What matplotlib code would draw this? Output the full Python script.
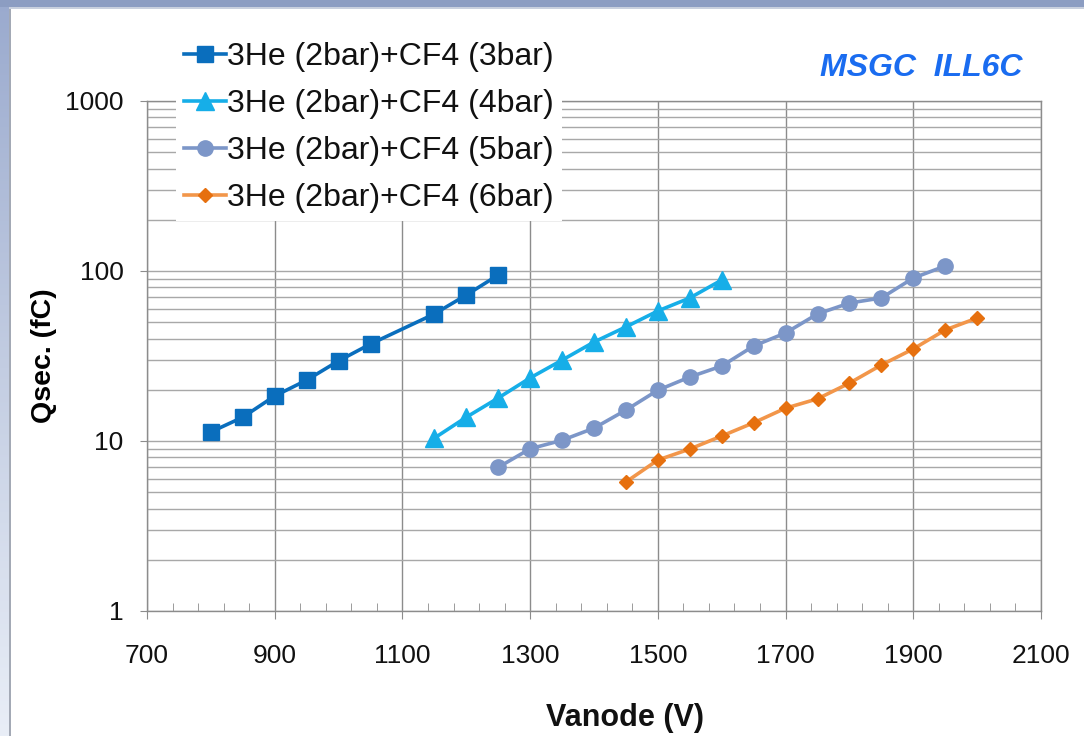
import numpy as np
import matplotlib
matplotlib.use("Agg")
import matplotlib.pyplot as plt
from matplotlib.ticker import FixedLocator, LogLocator, NullFormatter, FixedFormatter
from matplotlib.patches import Rectangle

plt.rcParams['font.family'] = ['Liberation Sans', 'DejaVu Sans']

# Anode voltage (V) and secondary charge (fC) for each gas mixture
v_3bar = [800, 850, 900, 950, 1000, 1050, 1150, 1200, 1250]
q_3bar = [11.3, 13.8, 18.4, 22.8, 29.6, 37.2, 55.9, 72.2, 94.7]

v_4bar = [1150, 1200, 1250, 1300, 1350, 1400, 1450, 1500, 1550, 1600]
q_4bar = [10.4, 13.8, 17.9, 23.5, 29.9, 38.2, 46.9, 58.2, 69.4, 88.5]

v_5bar = [1250, 1300, 1350, 1400, 1450, 1500, 1550, 1600, 1650, 1700,
          1750, 1800, 1850, 1900, 1950]
q_5bar = [7.0, 9.0, 10.1, 11.9, 15.2, 19.9, 23.8, 27.6, 36.2, 43.2,
          55.9, 64.8, 69.4, 90.9, 107.0]

v_6bar = [1450, 1500, 1550, 1600, 1650, 1700, 1750, 1800, 1850, 1900,
          1950, 2000]
q_6bar = [5.74, 7.73, 8.97, 10.7, 12.8, 15.6, 17.7, 21.9, 28.0, 34.8,
          45.0, 52.9]

labels = ["3He (2bar)+CF4 (3bar)", "3He (2bar)+CF4 (4bar)",
          "3He (2bar)+CF4 (5bar)", "3He (2bar)+CF4 (6bar)"]
x_ticks = [700, 900, 1100, 1300, 1500, 1700, 1900, 2100]
y_ticks = [1, 10, 100, 1000]
y_tick_labels = ["1", "10", "100", "1000"]

W, H = 1084, 736
fig = plt.figure(figsize=(W / 100, H / 100), dpi=100)
fig.patch.set_facecolor("white")

# slide-style frame: gradient band on the left, darker band at the top
band = fig.add_axes([0, 0, 9 / W, 1])
grad = np.linspace(0, 1, 256).reshape(-1, 1)
cmap = matplotlib.colors.LinearSegmentedColormap.from_list(
    "band", ["#e9eef7", "#c3cde2", "#9aaace"])
band.imshow(grad, aspect="auto", cmap=cmap, origin="lower", extent=[0, 1, 0, 1])
band.set_axis_off()
fig.add_artist(Rectangle((9 / W, 0), 1.5 / W, 1 - 7 / H, transform=fig.transFigure,
                         facecolor="#a3a9b5", edgecolor="none"))
fig.add_artist(Rectangle((0, 1 - 7 / H), 1, 7 / H, transform=fig.transFigure,
                         facecolor="#8c9dc2", edgecolor="none"))
fig.add_artist(Rectangle((9 / W, 1 - 8.5 / H), 1, 1.5 / H, transform=fig.transFigure,
                         facecolor="#c9d0de", edgecolor="none"))

ax = fig.add_axes([147 / W, 125 / H, (1041 - 147) / W, (611 - 101) / H])
ax.set_yscale("log")
ax.set_xlim(700, 2100)
ax.set_ylim(1, 1000)

grid_c = "#a8a8a8"
vgrid_c = "#8c8c8c"
ax.xaxis.set_major_locator(FixedLocator(x_ticks))
ax.xaxis.set_minor_locator(FixedLocator(np.arange(700, 2101, 40)))
ax.yaxis.set_major_locator(FixedLocator(y_ticks))
ax.yaxis.set_major_formatter(FixedFormatter(y_tick_labels))
ax.yaxis.set_minor_locator(LogLocator(base=10, subs=np.arange(2, 10)))
ax.yaxis.set_minor_formatter(NullFormatter())

ax.grid(True, axis="x", which="major", color=vgrid_c, lw=1.0)
ax.grid(True, axis="y", which="both", color=grid_c, lw=1.0)
ax.set_axisbelow(True)

for s in ax.spines.values():
    s.set_color(vgrid_c)
    s.set_linewidth(1.0)

ax.tick_params(axis="x", which="major", direction="out", length=6, color=vgrid_c,
               labelsize=19, pad=18, labelcolor="#111111")
ax.tick_params(axis="x", which="minor", direction="in", length=6, color=vgrid_c)
ax.tick_params(axis="y", which="major", direction="out", length=5, color=vgrid_c,
               labelsize=19, pad=12, labelcolor="#111111")
ax.tick_params(axis="y", which="minor", length=0)

ax.plot(v_3bar, q_3bar, color="#0a6ebd", lw=2.6, marker="s", ms=11.5,
        mfc="#0a6ebd", mec="#0a6ebd", label=labels[0], zorder=3)
ax.plot(v_4bar, q_4bar, color="#16aee8", lw=2.6, marker="^", ms=12.5,
        mfc="#16aee8", mec="#16aee8", label=labels[1], zorder=3)
ax.plot(v_5bar, q_5bar, color="#7c96c8", lw=2.6, marker="o", ms=11,
        mfc="#7c96c8", mec="#7c96c8", label=labels[2], zorder=3)
ax.plot(v_6bar, q_6bar, color="#f2964a", lw=2.6, marker="D", ms=7.5,
        mfc="#e6700f", mec="#e6700f", label=labels[3], zorder=3)

leg = ax.legend(loc="upper left", bbox_to_anchor=(176 / W, 1 - 34 / H),
                bbox_transform=fig.transFigure, fontsize=23, frameon=True,
                fancybox=False, borderpad=0.25, handlelength=1.3,
                handletextpad=0.05, labelspacing=0.53, borderaxespad=0)
leg.get_frame().set_facecolor("white")
leg.get_frame().set_edgecolor("none")
leg.get_frame().set_alpha(1)
for t in leg.get_texts():
    t.set_color("#111111")

ax.set_ylabel("Qsec. (fC)", fontsize=20.5, fontweight="bold", labelpad=6)
fig.text(625 / W, 1 - 718 / H, "Vanode (V)", ha="center", va="center",
         fontsize=22, fontweight="bold", color="#111111")

fig.text(921 / W, 1 - 68 / H, "MSGC  ILL6C", ha="center", va="center",
         fontsize=23, fontweight="bold", fontstyle="italic", color="#1a6cf0")

fig.savefig("out.png", dpi=100)
